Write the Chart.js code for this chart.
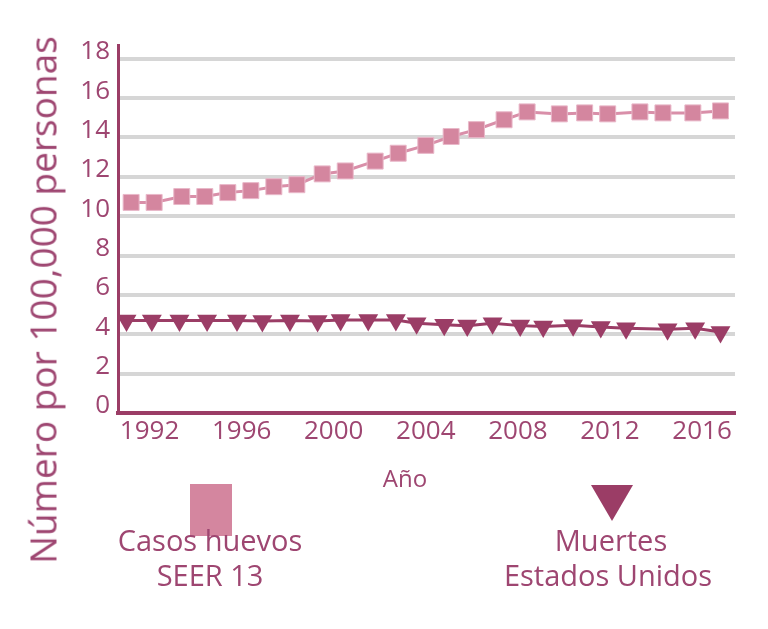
<!DOCTYPE html>
<html>
<head>
<meta charset="utf-8">
<script src="https://cdn.jsdelivr.net/npm/chart.js@4/dist/chart.umd.min.js"></script>
<style>
  html, body { margin: 0; padding: 0; background: #fff; }
  #wrap { position: relative; width: 768px; height: 629px; font-family: "Open Sans", sans-serif; color: #9e4671; }
  #chart { position: absolute; left: 0; top: 0; }
  .lbl { position: absolute; white-space: nowrap; line-height: 1; transform: translate(-50%, -50%); }
</style>
</head>
<body>
<div id="wrap">
  <canvas id="chart" width="768" height="629"></canvas>
  <div class="lbl" style="left:42px; top:300px; font-size:37px; transform:translate(-50%,-50%) rotate(-90deg);">Número por 100,000 personas</div>
  <div class="lbl" style="left:405px; top:478px; font-size:24px;">Año</div>

  <div style="position:absolute; left:190px; top:484px; width:42px; height:52px; background:#d4869f;"></div>
  <div class="lbl" style="left:210px; top:539px; font-size:29px;">Casos huevos</div>
  <div class="lbl" style="left:210px; top:574px; font-size:29px;">SEER 13</div>

  <svg style="position:absolute; left:590px; top:484px;" width="44" height="38">
    <polygon points="1,1 43,1 22,37" fill="#9b3d66"/>
  </svg>
  <div class="lbl" style="left:611px; top:539px; font-size:29px;">Muertes</div>
  <div class="lbl" style="left:608px; top:574px; font-size:29px;">Estados Unidos</div>
</div>

<script>
// Data
////////////////////////////////////////////////////////////

// new cases, SEER 13 (points sit slightly off whole years in the drawing)
const casosYears = [1991.2, 1992.2, 1993.4, 1994.4, 1995.4, 1996.4, 1997.4, 1998.4, 1999.5, 2000.5,
                    2001.8, 2002.8, 2004.0, 2005.1, 2006.2, 2007.4, 2008.4, 2009.8, 2010.9, 2011.9,
                    2013.3, 2014.3, 2015.6, 2016.8];
const casosValues = [10.7, 10.7, 11.0, 11.0, 11.2, 11.3, 11.5, 11.6, 12.15, 12.3,
                     12.8, 13.2, 13.6, 14.05, 14.4, 14.9, 15.3, 15.2, 15.25, 15.2,
                     15.3, 15.25, 15.25, 15.35];

// deaths, United States
const muertesYears = [1991.0, 1992.1, 1993.3, 1994.5, 1995.8, 1996.9, 1998.1, 1999.3, 2000.3, 2001.5,
                      2002.7, 2003.6, 2004.8, 2005.8, 2006.9, 2008.1, 2009.1, 2010.4, 2011.6, 2012.7,
                      2014.5, 2015.7, 2016.8];
const muertesValues = [4.7, 4.7, 4.7, 4.7, 4.7, 4.68, 4.7, 4.68, 4.73, 4.73,
                       4.73, 4.56, 4.48, 4.44, 4.56, 4.44, 4.39, 4.46, 4.37, 4.31,
                       4.25, 4.31, 4.12];

const xTicks = [1992, 1996, 2000, 2004, 2008, 2012, 2016];
const yTicks = [0, 2, 4, 6, 8, 10, 12, 14, 16, 18];

// Styles
////////////////////////////////////////////////////////////
const textColour = '#9e4671';
const axisColour = '#9b3d66';
const gridColour = '#d6d6d6';
const pinkColour = '#d4869f';
const fontFamily = '"Open Sans", sans-serif';

function toPoints(xs, ys) {
    return xs.map((x, i) => ({ x: x, y: ys[i] }));
}

const config = {
    type: 'line',
    data: {
        datasets: [{
            label: 'Casos huevos SEER 13',
            data: toPoints(casosYears, casosValues),
            borderColor: '#d98fa9',
            borderWidth: 3,
            pointStyle: 'rect',
            pointRadius: 11.3,
            pointBackgroundColor: pinkColour,
            pointBorderColor: '#e9b8c9',
            pointBorderWidth: 1,
            tension: 0
        }, {
            label: 'Muertes Estados Unidos',
            data: toPoints(muertesYears, muertesValues),
            borderColor: axisColour,
            borderWidth: 3,
            pointStyle: 'triangle',
            rotation: 180,
            pointRadius: 11.5,
            pointBackgroundColor: axisColour,
            pointBorderColor: axisColour,
            pointBorderWidth: 0,
            tension: 0
        }]
    },
    options: {
        responsive: false,
        animation: false,
        devicePixelRatio: 1,
        layout: { padding: { top: 45, right: 33, left: 0, bottom: 0 } },
        plugins: {
            legend: { display: false },
            tooltip: { enabled: false }
        },
        scales: {
            x: {
                type: 'linear',
                min: 1990.63,
                max: 2017.43,
                afterBuildTicks: scale => { scale.ticks = xTicks.map(v => ({ value: v })); },
                afterFit: scale => { scale.height = 216; },
                grid: { display: false, drawTicks: false },
                border: { display: true, color: axisColour, width: 4 },
                ticks: {
                    color: textColour,
                    font: { family: fontFamily, size: 26 },
                    padding: 3,
                    maxRotation: 0,
                    autoSkip: false,
                    callback: v => String(v)
                }
            },
            y: {
                type: 'linear',
                min: 0,
                max: 18.7,
                afterBuildTicks: scale => { scale.ticks = yTicks.map(v => ({ value: v })); },
                afterFit: scale => { scale.width = 118; },
                grid: {
                    color: ctx => (ctx.tick && ctx.tick.value === 0) ? 'rgba(0,0,0,0)' : gridColour,
                    lineWidth: 4,
                    drawTicks: false
                },
                border: { display: true, color: axisColour, width: 3 },
                ticks: {
                    color: textColour,
                    font: { family: fontFamily, size: 26 },
                    padding: 8,
                    labelOffset: -7,
                    callback: v => String(v)
                }
            }
        }
    }
};

const myChart = new Chart(document.getElementById('chart'), config);
</script>
</body>
</html>
